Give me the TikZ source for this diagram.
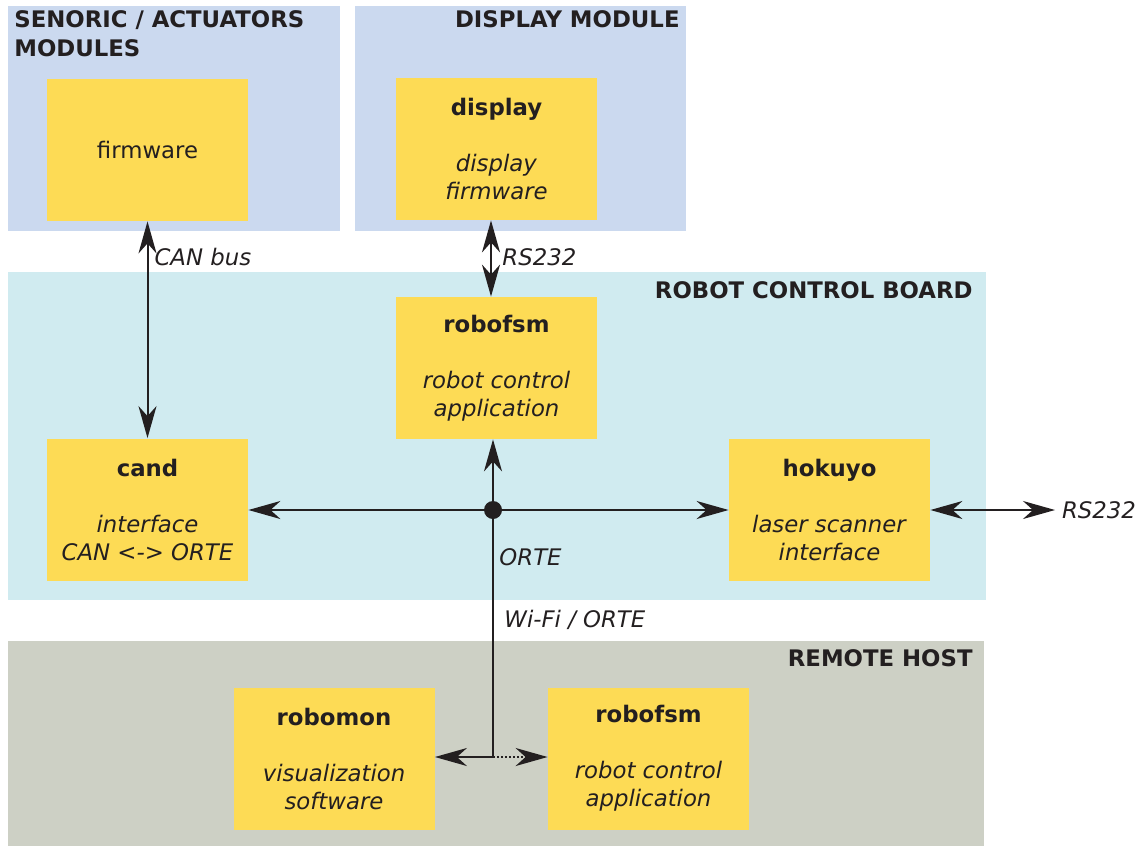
\documentclass[tikz,border=0pt]{standalone}
\usepackage{fontspec}
\setmainfont{DejaVu Sans}
\definecolor{butter}{HTML}{FDDB55}
\definecolor{modblue}{HTML}{CBD9EF}
\definecolor{boardcyan}{HTML}{D0EBF0}
\definecolor{hostgray}{HTML}{CDD0C5}
\definecolor{ink}{HTML}{231F20}
\usetikzlibrary{arrows.meta}
\usetikzlibrary{positioning}
\tikzstyle{module} = [fill=butter, text=ink, align=center, inner sep=0pt,
  minimum width=100.5pt, minimum height=71pt]
\tikzstyle{areatitle} = [text=ink, inner sep=0pt,
  font=\fontsize{11.4}{14.5}\selectfont\bfseries]
\tikzstyle{busname} = [text=ink, font=\fontsize{11.4}{14}\selectfont\itshape]
\tikzstyle{wire} = [ink, line width=1pt]
\tikzstyle{biarrow} = [wire, {Stealth[length=16pt,width=9pt,inset=5pt]}-{Stealth[length=16pt,width=9pt,inset=5pt]}]
\tikzstyle{toarrow} = [wire, -{Stealth[length=16pt,width=9pt,inset=5pt]}]

\begin{document}
\begin{tikzpicture}[x=0.5pt, y=-0.5pt,
  every node/.style={font=\fontsize{11.4}{14}\selectfont}]
\useasboundingbox (0,0) rectangle (1144,846);

% areas
\fill[modblue] (8,6) rectangle (340,231);
\fill[modblue] (355,6) rectangle (686,231);
\fill[boardcyan] (8,272) rectangle (986,600);
\fill[hostgray] (8,641) rectangle (984,846);

\node[areatitle, anchor=north west, align=left] (sensttl) at (14,10)
  {SENORIC / ACTUATORS\\MODULES};
\node[areatitle, anchor=north east] (dispttl) at (680,10) {DISPLAY MODULE};
\node[areatitle, anchor=north east] (boardttl) at (973,281) {ROBOT CONTROL BOARD};
\node[areatitle, anchor=north east] (hostttl) at (973,649) {REMOTE HOST};

% modules
\node[module] (firmware) at (147.5,150) {firmware};
\node[module] (display) at (496.5,149)
  {\textbf{display}\\[14pt]\textit{display}\\\textit{firmware}};
\node[module] (robofsm) at (496.5,368)
  {\textbf{robofsm}\\[14pt]\textit{robot control}\\\textit{application}};
\node[module] (cand) at (147.5,509.5)
  {\textbf{cand}\\[14pt]\textit{interface}\\\textit{CAN <-> ORTE}};
\node[module] (hokuyo) at (829.5,509.5)
  {\textbf{hokuyo}\\[14pt]\textit{laser scanner}\\\textit{interface}};
\node[module] (robomon) at (334,758.5)
  {\textbf{robomon}\\[14pt]\textit{visualization}\\\textit{software}};
\node[module] (hostfsm) at (648.5,758.5)
  {\textbf{robofsm}\\[14pt]\textit{robot control}\\\textit{application}};

% ORTE bus
\node[circle, fill=ink, inner sep=0pt, minimum size=9pt] (hub) at (493,510) {};
\coordinate (split) at (493,757);
\coordinate (serial) at (1055,510);

\draw[biarrow] (firmware) -- (cand);
\draw[biarrow] ([xshift=-2.75pt]display.south) -- ([xshift=-2.75pt]robofsm.north);
\draw[toarrow] (hub) -- (hub |- robofsm.south);
\draw[toarrow] (hub) -- (hub -| cand.east);
\draw[toarrow] (hub) -- (hub -| hokuyo.west);
\draw[biarrow] (hokuyo.east |- hub) -- (serial);
\draw[wire] (hub) -- (split);
\draw[toarrow] (split) -- (split -| robomon.east);
\draw[toarrow, densely dotted] (split) -- (split -| hostfsm.west);

\node[busname, anchor=west] (canlbl) at (147.5,257) {CAN bus};
\node[busname, anchor=west] (rslbl) at (495.4,257) {RS232};
\node[busname, anchor=west] (ortelbl) at (492.4,557) {ORTE};
\node[busname, anchor=west] (wifilbl) at (497.4,620) {Wi-Fi / ORTE};
\node[busname, anchor=west] (seriallbl) at (serial) {RS232};
\end{tikzpicture}
\end{document}
